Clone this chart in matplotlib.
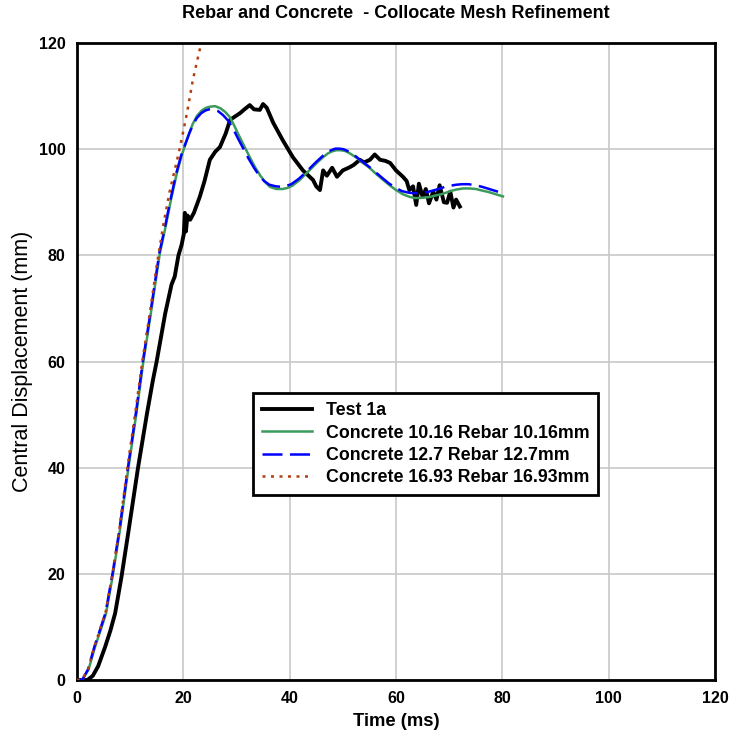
import matplotlib
matplotlib.use('Agg')
import matplotlib.pyplot as plt

plt.rcParams['font.family'] = ['Liberation Sans', 'DejaVu Sans']
plt.rcParams['font.weight'] = 'bold'

# Test 1a (experiment)
testT = [0, 2.0, 3.0, 4.0, 5.3, 6.3, 7.2, 8.4, 9.7, 11.5, 13.2, 14.3, 15.0, 16.6, 17.8, 18.4, 19.1,
         19.7, 20.1, 20.3, 20.5, 20.8, 21.3, 22.0, 23.1, 24.0, 25.0, 26.0, 26.9, 28.0, 28.8, 29.5,
         30.7, 31.5, 32.5, 33.3, 34.4, 35.0, 35.7, 36.9, 38.7, 40.6, 42.5, 44.4, 45.0, 45.7, 46.3,
         47.0, 48.0, 48.9, 50.0, 51.3, 52.0, 53.2, 54.0, 55.1, 56.0, 57.0, 58.0, 58.9, 60.0, 61.3,
         62.0, 62.5, 63.2, 63.8, 64.3, 65.0, 65.6, 66.2, 67.0, 67.6, 68.2, 69.0, 69.6, 70.2, 70.8,
         71.3, 72.0]
testD = [0, 0, 0.8, 2.6, 6.2, 9.3, 12.6, 19.5, 28, 40, 50.3, 56.5, 60, 69, 74.5, 76, 80,
         82, 84, 88, 84.5, 87.5, 86.7, 88, 91, 94, 98, 99.5, 100.4, 103, 105.5, 106,
         106.8, 107.5, 108.3, 107.5, 107.4, 108.5, 107.8, 105, 101.7, 98.5, 96, 94.2, 93, 92.3, 96,
         95, 96.5, 94.8, 96, 96.6, 97, 98, 97.5, 98, 99, 98, 97.8, 97.4, 96, 94.8,
         94, 92.3, 93, 89.5, 93.5, 91, 92.5, 89.8, 92, 90.5, 93.2, 90, 89.9, 92, 89,
         90.5, 89.2]

# Concrete 10.16 Rebar 10.16mm
c10T = [0, 1.0, 2.2, 3.4, 4.5, 5.5, 6.8, 8.1, 9.7, 11.2, 12.5, 13.9, 15.6, 16.6, 17.7, 18.8, 19.7,
        20.5, 21.2, 21.8, 22.6, 23.5, 24.3, 25.0, 26.0, 27.0, 27.9, 28.8, 29.6, 30.5, 31.5, 32.5,
        33.5, 34.5, 35.4, 36.3, 37.5, 38.7, 39.6, 40.5, 41.9, 43.0, 44.0, 45.2, 46.3, 47.2, 48.0,
        48.8, 49.5, 50.3, 51.0, 51.8, 52.7, 53.8, 55.0, 56.3, 57.6, 58.8, 60.0, 61.3, 62.6, 63.5,
        64.5, 65.5, 66.4, 67.5, 68.5, 69.4, 70.2, 71.4, 72.6, 73.8, 75.0, 76.2, 77.5, 78.8, 80.1]
c10D = [0, 0, 2.0, 6.2, 9.5, 12.6, 20, 28.3, 40, 50.3, 60, 69, 80.4, 85, 90.5, 95.5, 98.8,
        101.2, 103.2, 104.8, 106.3, 107.3, 107.8, 108.0, 108.1, 107.7, 107.0, 106.0, 104.4, 102.5, 100.5, 98.5,
        96.6, 95.0, 93.8, 92.9, 92.5, 92.5, 92.7, 93.1, 94.2, 95.3, 96.3, 97.5, 98.5, 99.2, 99.6,
        99.8, 99.8, 99.7, 99.4, 98.9, 98.3, 97.4, 96.5, 95.3, 94.2, 93.2, 92.3, 91.5, 91.0, 90.8,
        90.8, 90.9, 91.0, 91.3, 91.5, 91.8, 92.1, 92.4, 92.6, 92.6, 92.5, 92.2, 91.9, 91.5, 91.1]

# Concrete 12.7 Rebar 12.7mm
c12T = [0, 1.0, 2.1, 3.3, 4.4, 5.4, 6.7, 8.0, 9.6, 11.1, 12.4, 13.8, 15.5, 16.5, 17.6, 18.7, 19.6,
        20.4, 21.1, 21.7, 22.5, 23.4, 24.2, 24.9, 25.6, 26.5, 27.5, 28.5, 29.4, 30.3, 31.3, 32.3,
        33.3, 34.3, 35.2, 36.2, 37.4, 38.5, 39.4, 40.3, 41.7, 42.8, 43.8, 45.0, 46.2, 47.0, 47.8,
        48.6, 49.3, 50.1, 50.8, 51.6, 52.5, 53.6, 54.8, 56.1, 57.4, 58.6, 59.8, 61.1, 62.4, 63.4,
        64.3, 65.3, 66.2, 67.3, 68.3, 69.2, 70.2, 71.3, 72.4, 73.6, 75.0, 76.2, 77.5, 78.8, 80.0]
c12D = [0, 0, 2.0, 6.3, 9.6, 12.7, 20, 28.3, 40, 50.3, 60, 69, 80.4, 85, 90.5, 95.5, 98.8,
        101.0, 102.9, 104.3, 105.8, 106.8, 107.3, 107.5, 107.5, 107.2, 106.4, 105.3, 103.8, 102.0, 100.1, 98.2,
        96.5, 95.0, 94.0, 93.3, 93.0, 92.9, 93.1, 93.4, 94.4, 95.4, 96.4, 97.6, 98.7, 99.4, 99.8,
        100.1, 100.1, 100.0, 99.7, 99.2, 98.6, 97.7, 96.8, 95.7, 94.6, 93.6, 92.8, 92.1, 91.8, 91.7,
        91.7, 91.8, 92.0, 92.3, 92.6, 92.9, 93.1, 93.3, 93.4, 93.4, 93.2, 92.9, 92.5, 92.1, 91.7]

# Concrete 16.93 Rebar 16.93mm
c16T = [0, 0.9, 2.1, 3.3, 4.4, 5.4, 6.7, 8.0, 9.5, 11.0, 12.3, 13.7, 15.0, 16.3, 17.5, 18.5, 19.4,
        20.7, 21.8, 22.7, 23.5]
c16D = [0, 0, 2.0, 6.3, 9.7, 12.8, 20, 28.5, 40, 50.5, 60, 69, 78, 86, 92.3, 96.5, 100.4,
        106.8, 113, 117, 120.5]

xTicks = [0, 20, 40, 60, 80, 100, 120]
yTicks = [0, 20, 40, 60, 80, 100, 120]

fig = plt.figure(figsize=(7.32, 7.35), dpi=100)
ax = fig.add_axes([0.105, 0.0748, 0.872, 0.8667])

ax.plot(testT, testD, color='black', lw=2.8, label='Test 1a', zorder=3)
ax.plot(c10T, c10D, color='#3a9a5c', lw=1.8, label='Concrete 10.16 Rebar 10.16mm', zorder=4)
ax.plot(c12T, c12D, color='#0000ff', lw=1.8, dashes=(8, 3), label='Concrete 12.7 Rebar 12.7mm', zorder=5)
ax.plot(c16T, c16D, color='#b5400f', lw=1.8, dashes=(1.2, 2.2), label='Concrete 16.93 Rebar 16.93mm', zorder=6)

ax.set_xlim(0, 120)
ax.set_ylim(0, 120)
ax.set_xticks(xTicks)
ax.set_yticks(yTicks)
ax.tick_params(length=0, labelsize=11.5, pad=8)
for lbl in ax.get_xticklabels() + ax.get_yticklabels():
    lbl.set_fontweight('bold')
ax.grid(True, color='#c8c8c8', lw=1.2)
ax.set_axisbelow(True)
for s in ax.spines.values():
    s.set_linewidth(2)
    s.set_color('black')

ax.set_xlabel('Time (ms)', fontsize=13.3, fontweight='bold', labelpad=5)
ax.set_ylabel('Central Displacement (mm)', fontsize=15.5, fontweight='normal', labelpad=4)
fig.text(0.541, 0.981, 'Rebar and Concrete  - Collocate Mesh Refinement', ha='center', va='center',
         fontsize=13, fontweight='bold')

leg = ax.legend(loc='upper left', bbox_to_anchor=(0.276, 0.45), borderaxespad=0, fontsize=12.8,
                fancybox=False, framealpha=1, edgecolor='black', handlelength=2.8, borderpad=0.5,
                labelspacing=0.3, handletextpad=0.8)
leg.get_frame().set_linewidth(2)
for t in leg.get_texts():
    t.set_fontweight('bold')

plt.savefig('out.png', dpi=100)
